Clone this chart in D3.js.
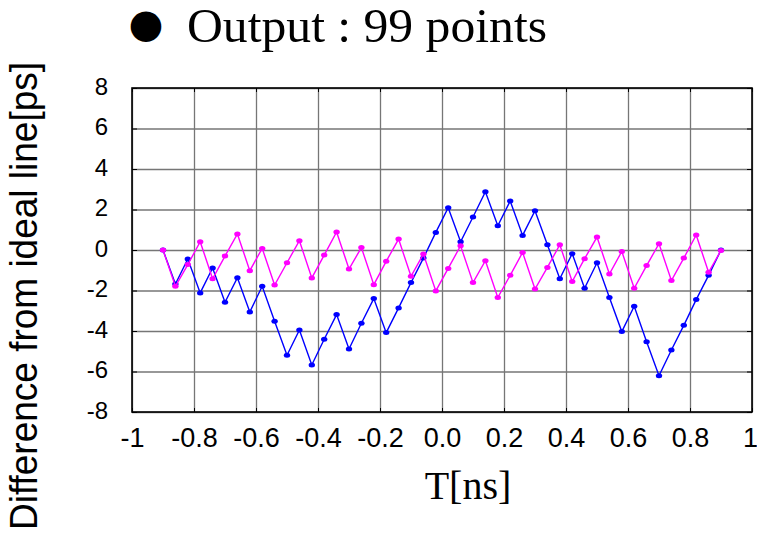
<!DOCTYPE html>
<html>
<head>
<meta charset="utf-8">
<script src="https://cdn.jsdelivr.net/npm/d3@7"></script>
<style>
body { margin: 0; background: #fff; }
</style>
</head>
<body>
<div id="chart"></div>
<script>
// sample times [ns]
const tValues = [-0.90, -0.86, -0.82, -0.78, -0.74, -0.70, -0.66, -0.62, -0.58, -0.54,
                 -0.50, -0.46, -0.42, -0.38, -0.34, -0.30, -0.26, -0.22, -0.18, -0.14,
                 -0.10, -0.06, -0.02, 0.02, 0.06, 0.10, 0.14, 0.18, 0.22, 0.26,
                 0.30, 0.34, 0.38, 0.42, 0.46, 0.50, 0.54, 0.58, 0.62, 0.66,
                 0.70, 0.74, 0.78, 0.82, 0.86, 0.90];

// difference from ideal line [ps]
const blueDiff = [0, -1.68, -0.44, -2.12, -0.89, -2.58, -1.37, -3.06, -1.79, -3.52,
                  -5.20, -3.95, -5.68, -4.41, -3.19, -4.89, -3.62, -2.40, -4.08, -2.86,
                  -1.61, -0.40, 0.87, 2.09, 0.41, 1.63, 2.88, 1.20, 2.42, 0.72,
                  1.94, 0.26, -1.42, -0.18, -1.89, -0.63, -2.35, -4.03, -2.78, -4.53,
                  -6.21, -4.94, -3.72, -2.45, -1.25, 0];

const magentaDiff = [0, -1.79, -0.72, 0.41, -1.42, -0.30, 0.79, -1.02, 0.08, -1.73,
                     -0.63, 0.46, -1.38, -0.25, 0.89, -0.94, 0.12, -1.71, -0.56, 0.54,
                     -1.30, -0.20, -2.02, -0.91, 0.21, -1.61, -0.53, -2.35, -1.25, -0.12,
                     -1.93, -0.86, 0.26, -1.56, -0.43, 0.64, -1.19, -0.07, -1.89, -0.77,
                     0.31, -1.51, -0.40, 0.74, -1.10, -0.02];

const xTicks = [-1, -0.8, -0.6, -0.4, -0.2, 0, 0.2, 0.4, 0.6, 0.8, 1];
const xTickLabels = ["-1", "-0.8", "-0.6", "-0.4", "-0.2", "0.0", "0.2", "0.4", "0.6", "0.8", "1"];
const yTicks = [8, 6, 4, 2, 0, -2, -4, -6, -8];
const yTickLabels = ["8", "6", "4", "2", "0", "-2", "-4", "-6", "-8"];

const W = 757, H = 534;
const plot = { left: 132, right: 752, top: 88, bottom: 412 };

const svg = d3.select("#chart")
    .append("svg")
    .attr("width", W)
    .attr("height", H);

const x = d3.scaleLinear().domain([-1, 1]).range([plot.left, plot.right]);
const y = d3.scaleLinear().domain([-8, 8]).range([plot.bottom, plot.top]);

const tickFont = "'Liberation Sans Narrow', 'Arial Narrow', 'Liberation Sans', Arial, sans-serif";

// grid lines
svg.append("g")
    .attr("transform", `translate(0,${plot.bottom})`)
    .call(d3.axisBottom(x).tickValues(xTicks).tickSize(-(plot.bottom - plot.top)).tickFormat(""))
    .call(g => g.select(".domain").remove())
    .selectAll("line")
    .attr("stroke", "#767676")
    .attr("stroke-width", 1.3);

svg.append("g")
    .attr("transform", `translate(${plot.left},0)`)
    .call(d3.axisLeft(y).tickValues(yTicks).tickSize(-(plot.right - plot.left)).tickFormat(""))
    .call(g => g.select(".domain").remove())
    .selectAll("line")
    .attr("stroke", "#767676")
    .attr("stroke-width", 1.3);

// inward ticks on all four sides
svg.append("g")
    .attr("transform", `translate(0,${plot.bottom})`)
    .call(d3.axisBottom(x).tickValues(xTicks).tickSize(-4).tickFormat(""))
    .call(g => g.select(".domain").remove())
    .selectAll("line").attr("stroke", "#000");
svg.append("g")
    .attr("transform", `translate(0,${plot.top})`)
    .call(d3.axisTop(x).tickValues(xTicks).tickSize(-4).tickFormat(""))
    .call(g => g.select(".domain").remove())
    .selectAll("line").attr("stroke", "#000");
svg.append("g")
    .attr("transform", `translate(${plot.left},0)`)
    .call(d3.axisLeft(y).tickValues(yTicks).tickSize(-5).tickFormat(""))
    .call(g => g.select(".domain").remove())
    .selectAll("line").attr("stroke", "#000");
svg.append("g")
    .attr("transform", `translate(${plot.right},0)`)
    .call(d3.axisRight(y).tickValues(yTicks).tickSize(-5).tickFormat(""))
    .call(g => g.select(".domain").remove())
    .selectAll("line").attr("stroke", "#000");

// frame
svg.append("rect")
    .attr("x", plot.left)
    .attr("y", plot.top)
    .attr("width", plot.right - plot.left)
    .attr("height", plot.bottom - plot.top)
    .attr("fill", "none")
    .attr("stroke", "#000")
    .attr("stroke-width", 1.6);

// tick labels
svg.append("g")
    .attr("transform", `translate(0,${plot.bottom})`)
    .call(d3.axisBottom(x).tickValues(xTicks).tickSize(0).tickPadding(16)
        .tickFormat((d, i) => xTickLabels[i]))
    .call(g => g.select(".domain").remove())
    .selectAll("text")
    .attr("font-family", tickFont)
    .attr("font-size", 27)
    .attr("dx", (d, i) => i === xTicks.length - 1 ? -2 : 0)
    .attr("fill", "#000");

svg.append("g")
    .attr("transform", `translate(${plot.left},0)`)
    .call(d3.axisLeft(y).tickValues(yTicks).tickSize(0).tickPadding(24)
        .tickFormat((d, i) => yTickLabels[i]))
    .call(g => g.select(".domain").remove())
    .selectAll("text")
    .attr("font-family", tickFont)
    .attr("font-size", 24)
    .attr("dy", "0.25em")
    .attr("fill", "#000");

// series
const series = [
    { values: blueDiff, color: "#0000ff" },
    { values: magentaDiff, color: "#ff00ff" }
];

const line = d3.line()
    .x((d, i) => x(tValues[i]))
    .y(d => y(d));

series.forEach(s => {
    svg.append("path")
        .datum(s.values)
        .attr("fill", "none")
        .attr("stroke", s.color)
        .attr("stroke-width", 1.4)
        .attr("d", line);

    svg.append("g")
        .selectAll("ellipse")
        .data(s.values)
        .enter().append("ellipse")
        .attr("cx", (d, i) => x(tValues[i]))
        .attr("cy", d => y(d))
        .attr("rx", 3.2)
        .attr("ry", 2.5)
        .attr("fill", s.color);
});

// title
svg.append("text")
    .attr("x", 146)
    .attr("y", 37)
    .attr("text-anchor", "middle")
    .attr("font-family", "'DejaVu Sans', sans-serif")
    .attr("font-size", 40)
    .text("●");

svg.append("text")
    .attr("x", 187)
    .attr("y", 42)
    .attr("font-family", "'Liberation Serif', 'Times New Roman', serif")
    .attr("font-size", 48)
    .attr("textLength", 360)
    .attr("lengthAdjust", "spacingAndGlyphs")
    .text("Output : 99 points");

// axis titles
svg.append("text")
    .attr("x", 468)
    .attr("y", 499)
    .attr("text-anchor", "middle")
    .attr("font-family", "'Liberation Serif', 'Times New Roman', serif")
    .attr("font-size", 40)
    .text("T[ns]");

svg.append("text")
    .attr("transform", "translate(37,296) rotate(-90)")
    .attr("text-anchor", "middle")
    .attr("font-family", "'Liberation Sans', Arial, sans-serif")
    .attr("font-size", 38)
    .attr("textLength", 468)
    .attr("lengthAdjust", "spacingAndGlyphs")
    .text("Difference from ideal line[ps]");
</script>
</body>
</html>
